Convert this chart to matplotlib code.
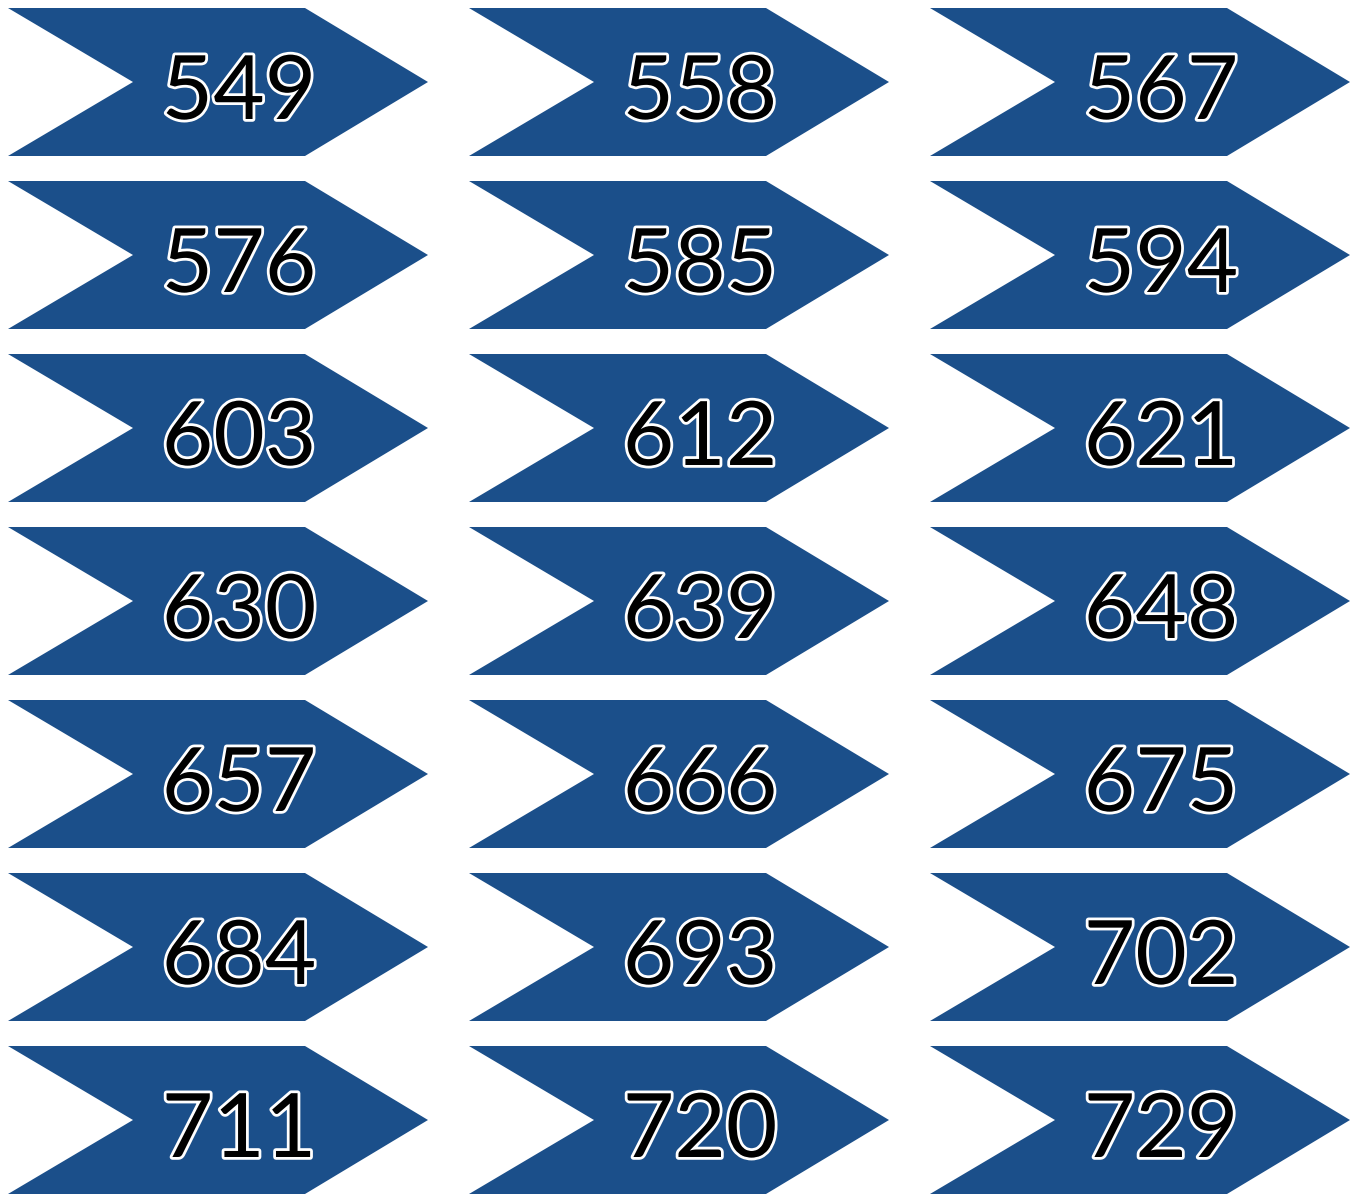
import matplotlib
matplotlib.use("Agg")
import matplotlib.pyplot as plt
from matplotlib.patches import Polygon
import matplotlib.patheffects as pe

# Number labels, laid out row by row (3 per row)
numbers = [549, 558, 567,
           576, 585, 594,
           603, 612, 621,
           630, 639, 648,
           657, 666, 675,
           684, 693, 702,
           711, 720, 729]
n_cols = 3

arrow_color = "#1b4f8a"

fig = plt.figure(figsize=(13.56, 11.94), dpi=100)
ax = fig.add_axes([0, 0, 1, 1])
ax.set_xlim(0, 1356)
ax.set_ylim(1194, 0)
ax.axis("off")

# arrow shape in pixel units (relative to the top-left corner of its cell)
col_step, row_step = 461, 173
w_body, w_total, notch, h = 297, 420, 125, 148

for i, num in enumerate(numbers):
    r, c = divmod(i, n_cols)
    x0 = 8 + c * col_step
    y0 = 8 + r * row_step
    pts = [(x0, y0), (x0 + w_body, y0), (x0 + w_total, y0 + h / 2),
           (x0 + w_body, y0 + h), (x0, y0 + h), (x0 + notch, y0 + h / 2)]
    ax.add_patch(Polygon(pts, closed=True, facecolor=arrow_color, edgecolor="none"))
    t = ax.text(x0 + 231, y0 + h / 2 + 12, str(num), ha="center", va="center",
                fontsize=64, family="Lato", color="black")
    t.set_path_effects([pe.withStroke(linewidth=4, foreground="white")])

fig.savefig("out.png", dpi=100)
